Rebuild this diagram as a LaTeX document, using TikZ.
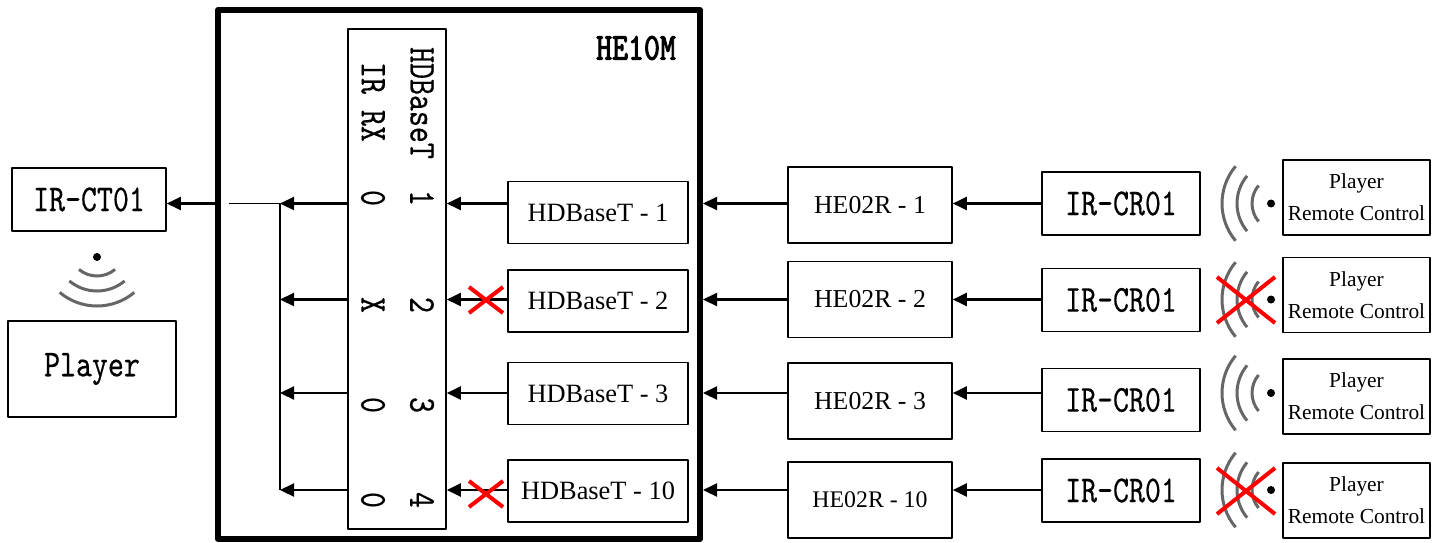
\documentclass[tikz,border=0pt]{standalone}
\usepackage{fontspec}
\setmainfont{Liberation Serif}
\newfontfamily\simfont{lmmono10-regular}[Extension=.otf, FakeStretch=0.8, FakeBold=0.4, BoldFont=lmmono10-regular, BoldFeatures={FakeBold=2.5}]
\usetikzlibrary{arrows.meta}

\begin{document}
\begin{tikzpicture}[x=0.5pt, y=-0.5pt, line join=round, >={Triangle[length=7pt,width=6.5pt]},
	box/.style={draw, line width=0.8pt, inner sep=0pt},
	simtext/.style={font=\simfont\fontsize{19}{21}\selectfont},
	tmtext/.style={font=\fontsize{13.2}{15}\selectfont},
	rctext/.style={font=\fontsize{10.7}{16}\selectfont, align=center},
	arr/.style={->, line width=1.1pt},
	nope/.style={red, line width=2pt},
	wave/.style={black!60, line width=1.5pt}]
	\useasboundingbox (0,0) rectangle (1439,542);
	% HE10M and its port column
	\node[draw, line width=3pt, minimum width=241pt, minimum height=264.5pt] (he) at (459,274.5) {};
	\node[simtext, font=\simfont\bfseries\fontsize{19}{21}\selectfont] (hetitle) at (636,48) {HE10M};
	\node[box, minimum width=49pt, minimum height=250pt] (ports) at (397,279) {};
	\node[simtext, rotate=-90] (colhdb) at (422,103) {HDBaseT};
	\node[simtext, rotate=-90] (colir) at (373,102) {IR RX};
	\foreach \i/\v/\y in {1/0/198, 2/X/305, 3/0/405, 4/0/500}{
		\node[simtext, rotate=-90] (pn\i) at (422,\y) {\i};
		\node[simtext, rotate=-90] (pv\i) at (373,\y) {\v};
	}
	\coordinate (bus) at (280,0);
	\coordinate (tap) at (229,0);
	% rows
	\foreach \i/\n/\fs/\yr/\yh/\ye/\yc/\yp in {1/1/12.9/203.5/212.5/205/203.5/197.5, 2/2/12.9/299.5/301/299.5/300/295, 3/3/12.9/393/393.5/401/400/396.5, 4/10/11.9/490/491/500/490.5/500.5}{
		\coordinate (r\i) at (0,\yr);
		\node[box, tmtext, minimum width=90pt, minimum height=31pt] (hb\i) at (598,\yh) {HDBaseT - \n};
		\node[box, font=\fontsize{\fs}{15}\selectfont, minimum width=82pt, minimum height=38pt] (rx\i) at (870,\ye) {HE02R - \n};
		\node[box, simtext, minimum width=79pt, minimum height=31.5pt] (ircr\i) at (1121,\yc) {IR-CR01};
		\node[box, rctext, minimum width=73.5pt, minimum height=37.5pt] (prc\i) at (1356.5,\yp) {Player\\Remote Control};
		\draw[arr] (ircr\i.west |- r\i) -- (rx\i.east |- r\i);
		\draw[arr] (rx\i.west |- r\i) -- (he.east |- r\i);
		\draw[arr] (hb\i.west |- r\i) -- (ports.east |- r\i);
		\draw[arr] (ports.west |- r\i) -- (bus |- r\i);
		\foreach \r in {28,43,58} \draw[wave] (1280,\yr) ++(140:\r) arc[start angle=140, end angle=220, radius=\r];
		\fill (1271,\yr) circle[radius=4];
	}
	% left side
	\node[box, simtext, minimum width=77pt, minimum height=31.5pt] (irct) at (89,199.5) {IR-CT01};
	\node[box, simtext, minimum width=84pt, minimum height=48pt] (player) at (92,369) {Player};
	\draw[line width=0.6pt] (tap |- r1) -- (bus |- r1) -- (bus |- r4);
	\draw[arr] (he.west |- r1) -- (irct.east |- r1);
	\foreach \r in {28,43,58} \draw[wave] (97,248) ++(50:\r) arc[start angle=50, end angle=130, radius=\r];
	\fill (97,257) circle[radius=4];
	% blocked links
	\foreach \y in {300,494} \draw[nope] (469,\y-13) -- (503,\y+13) (469,\y+13) -- (503,\y-13);
	\foreach \y in {300,491} \draw[nope] (1217,\y-23) -- (1275,\y+23) (1217,\y+23) -- (1275,\y-23);
\end{tikzpicture}
\end{document}
